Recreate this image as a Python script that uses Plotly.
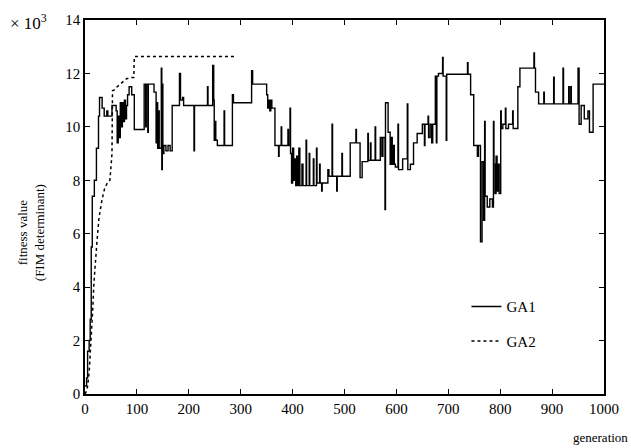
import plotly.graph_objects as go

# GA1: step-wise fitness trace (generation, fitness x10^3)
ga1_gen = [0, 3, 5, 8, 10, 12, 14, 18, 22, 26, 28, 33, 37, 42, 44, 52, 60, 62, 64, 66,
           68, 70, 72, 74, 76, 78, 80, 82, 85, 90, 95, 114, 117, 118, 121, 122, 133, 137, 139, 140,
           142, 143, 147, 148, 149, 150, 152, 156, 160, 164, 168, 182, 184, 188, 190, 210, 211, 236, 237, 246,
           248, 249, 251, 252, 255, 268, 269, 284, 286, 321, 323, 350, 352, 354, 356, 358, 360, 366, 373, 374,
           378, 379, 391, 392, 395, 396, 398, 400, 402, 404, 406, 408, 410, 412, 414, 418, 420, 426, 427, 432,
           433, 440, 441, 446, 447, 452, 453, 456, 457, 468, 470, 476, 477, 485, 486, 495, 496, 511, 522, 523,
           530, 534, 545, 546, 550, 551, 559, 560, 569, 572, 574, 578, 579, 584, 588, 590, 592, 594, 596, 598,
           603, 604, 612, 621, 622, 627, 633, 640, 650, 654, 655, 661, 662, 665, 668, 670, 675, 677, 678, 681,
           689, 690, 696, 697, 737, 738, 743, 749, 756, 758, 762, 765, 768, 770, 771, 775, 780, 785, 787, 788,
           790, 792, 794, 796, 798, 801, 802, 805, 810, 811, 816, 824, 825, 834, 838, 865, 866, 868, 874, 884,
           885, 903, 904, 921, 922, 932, 933, 936, 937, 950, 952, 956, 962, 969, 972, 979, 1000]
ga1_val = [0.3, 0.6, 1.6, 2.0, 2.8, 5.5, 7.4, 8.0, 9.2, 10.4, 11.1, 10.7, 10.4, 10.6, 10.4, 10.8, 10.6, 9.4, 10.4, 9.6,
           10.9, 10.0, 10.9, 10.2, 11.0, 10.3, 10.8, 11.2, 11.5, 11.2, 9.9, 11.6, 10.0, 11.6, 9.8, 11.6, 11.3, 9.4, 10.9, 9.2,
           10.6, 9.2, 12.2, 8.4, 11.6, 9.0, 9.3, 9.1, 9.3, 9.1, 10.8, 12.0, 11.0, 11.1, 10.8, 9.1, 10.8, 11.5, 10.8, 12.3,
           11.0, 9.5, 10.2, 9.5, 9.3, 10.6, 9.3, 11.2, 10.9, 12.1, 11.6, 11.2, 10.7, 11.0, 10.6, 11.0, 10.7, 9.3, 8.9, 9.3,
           10.0, 9.3, 9.9, 9.3, 10.7, 9.0, 7.9, 9.2, 8.0, 8.8, 7.8, 8.9, 7.8, 9.2, 7.8, 8.6, 7.8, 9.5, 7.8, 9.0,
           7.8, 8.8, 7.8, 9.2, 7.9, 8.6, 7.9, 7.6, 7.9, 8.4, 8.15, 10.1, 8.15, 7.6, 8.15, 9.0, 8.15, 9.4, 9.9, 9.4,
           8.1, 8.7, 9.75, 8.75, 9.4, 8.75, 10.0, 8.75, 9.6, 8.9, 9.6, 6.9, 10.9, 9.8, 8.6, 9.6, 8.6, 9.3, 8.6, 8.5,
           10.1, 8.4, 8.8, 10.86, 8.4, 8.6, 9.4, 9.75, 10.1, 9.3, 10.1, 10.4, 9.6, 10.1, 9.4, 10.1, 11.9, 9.4, 11.9, 12.0,
           12.6, 11.9, 9.5, 11.97, 12.4, 11.97, 11.2, 9.3, 8.9, 9.3, 5.7, 8.7, 6.5, 10.2, 7.4, 7.0, 7.3, 7.0, 10.2, 8.6,
           7.5, 8.9, 7.6, 8.6, 7.5, 10.6, 9.94, 10.1, 10.7, 9.94, 10.1, 10.6, 9.94, 11.5, 12.2, 12.77, 12.2, 11.3, 10.86, 11.3,
           10.86, 11.86, 10.86, 12.2, 10.86, 11.5, 10.86, 11.5, 10.86, 12.2, 10.1, 10.8, 10.3, 10.6, 9.8, 11.6, 11.6]

# GA2: smoother trace
ga2_gen = [0, 4, 8, 12, 15, 17, 20, 23, 27, 33, 38, 43, 48, 52, 53, 58, 62, 68, 74, 80, 90, 94, 95, 292]
ga2_val = [0.0, 0.15, 0.8, 2.0, 3.2, 4.1, 5.0, 5.7, 6.6, 7.3, 7.7, 7.9, 8.0, 9.0, 11.35, 11.4, 11.5, 11.6, 11.7, 11.8,
           11.85, 11.85, 12.63, 12.63]

x_ticks = [0, 100, 200, 300, 400, 500, 600, 700, 800, 900, 1000]
y_ticks = [0, 2, 4, 6, 8, 10, 12, 14]

FONT = "Liberation Serif, Times New Roman, serif"

fig = go.Figure()
fig.add_trace(go.Scatter(x=ga1_gen, y=ga1_val, mode="lines", name="GA1",
                         line=dict(color="black", width=1.4, shape="hv"), legendgroup="a"))
fig.add_trace(go.Scatter(x=ga2_gen, y=ga2_val, mode="lines", name="GA2",
                         line=dict(color="black", width=1.5, dash="dot"), legendgroup="b"))

axis_common = dict(showline=True, linecolor="black", linewidth=1.5, mirror="ticks",
                   ticks="inside", ticklen=5, tickwidth=1, tickcolor="black",
                   showgrid=False, zeroline=False,
                   tickfont=dict(family=FONT, size=15, color="black"))

fig.update_xaxes(range=[0, 1000], tickvals=x_ticks, ticktext=[str(v) for v in x_ticks], **axis_common)
fig.update_yaxes(range=[0, 14], tickvals=y_ticks, ticktext=[str(v) for v in y_ticks], **axis_common)

fig.update_layout(
    width=631, height=448,
    margin=dict(l=85, r=27, t=15, b=54),
    plot_bgcolor="white", paper_bgcolor="white",
    showlegend=True,
    legend=dict(x=0.735, y=0.188, xanchor="left", yanchor="middle",
                font=dict(family=FONT, size=15, color="black"),
                bgcolor="rgba(0,0,0,0)", tracegroupgap=12, traceorder="grouped"),
    annotations=[
        dict(text="× 10<sup>3</sup>", x=-0.148, y=0.995, xref="paper", yref="paper", showarrow=False,
             font=dict(family=FONT, size=17, color="black"), xanchor="left", yanchor="middle"),
        dict(text="fitness value<br>(FIM determinant)", textangle=-90, xref="paper", yref="paper",
             x=-0.104, y=0.43, showarrow=False, xanchor="center", yanchor="middle",
             font=dict(family=FONT, size=13, color="black")),
        dict(text="generation", xref="paper", yref="paper", x=1.05, y=-0.116, showarrow=False,
             xanchor="right", yanchor="middle", font=dict(family=FONT, size=13, color="black")),
    ],
)

fig.write_html("out.html", config={"displayModeBar": False},
               post_script="document.body.style.margin='0';")
